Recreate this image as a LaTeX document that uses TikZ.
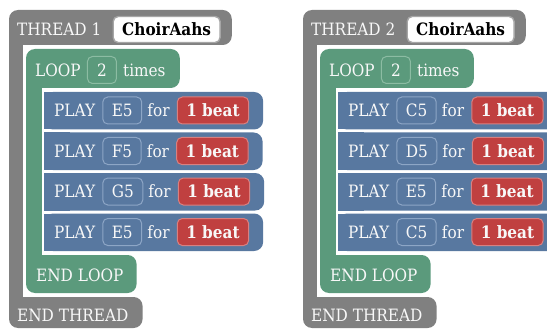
\documentclass[tikz,border=0pt]{standalone}
\usepackage{fontspec}
\setmainfont{DejaVu Serif Condensed}
\usetikzlibrary{positioning,backgrounds}
\definecolor{thgray}{HTML}{808080}
\definecolor{lpgreen}{HTML}{5B9A7C}
\definecolor{lpgreenedge}{HTML}{8CBCA3}
\definecolor{plblue}{HTML}{5878A0}
\definecolor{plblueedge}{HTML}{8DA6C6}
\definecolor{beatred}{HTML}{C04040}
\definecolor{beatrededge}{HTML}{D98080}
\definecolor{txt}{HTML}{F8F8F8}
\tikzset{
  lbl/.style={text=txt, font=\fontsize{17}{20}\selectfont, inner sep=0pt,
    text height=12.3pt, text depth=0pt, anchor=west},
  slotbox/.style={lbl, draw=#1, line width=1pt, rounded corners=5pt,
    minimum height=27pt, inner xsep=9pt},
  beatbox/.style={slotbox=beatrededge, fill=beatred, font=\fontsize{17}{20}\selectfont\bfseries},
  namebox/.style={lbl, text=black, fill=white, draw=black!35, line width=1.4pt,
    rounded corners=5pt, minimum height=26pt, inner xsep=9pt,
    font=\fontsize{17}{20}\selectfont\bfseries},
}
\newcommand\mythread[4]{%
\begin{scope}[xshift=#2]
  \node[lbl] (#1-thr) at (17,29.5) {THREAD #3};
  \node[namebox, right=11pt of #1-thr] (#1-name) {ChoirAahs};
  \node[lbl] (#1-loop) at (35,70) {LOOP};
  \node[slotbox=lpgreenedge, right=6pt of #1-loop, minimum width=29pt] (#1-cnt) {2};
  \node[lbl, right=6pt of #1-cnt] (#1-times) {times};
  \node[lbl] (#1-endloop) at (36,275.5) {END LOOP};
  \node[lbl] (#1-endthr) at (17,315.5) {END THREAD};
  \coordinate (#1-hr) at ([xshift=11pt]#1-name.east);
  \coordinate (#1-lr) at ([xshift=14pt]#1-times.east);
  \coordinate (#1-elr) at ([xshift=13pt]#1-endloop.east);
  \coordinate (#1-etr) at ([xshift=14pt]#1-endthr.east);
  \begin{pgfonlayer}{background}
    \fill[thgray, rounded corners=9pt] (9,10) rectangle (#1-hr |- 0,45);
    \fill[thgray] (9,25) rectangle (23,310);
    \fill[thgray, rounded corners=9pt] (9,297) rectangle (#1-etr |- 0,328);
    \fill[lpgreen, rounded corners=9pt] (26,49) rectangle (#1-lr |- 0,88);
    \fill[lpgreen] (26,65) rectangle (42,270);
    \fill[lpgreen, rounded corners=9pt] (26,255) rectangle (#1-elr |- 0,293);
  \end{pgfonlayer}
  \foreach \n [count=\i] in {#4} {
    \pgfmathsetmacro\cy{110.5+40.5*(\i-1)}
    \pgfmathsetmacro\ty{\cy-18.5}
    \pgfmathsetmacro\by{\cy+19}
    \node[lbl] (#1-play\i) at (54,\cy) {PLAY};
    \node[slotbox=plblueedge, right=7pt of #1-play\i] (#1-note\i) {\n};
    \node[lbl, right=5pt of #1-note\i] (#1-for\i) {for};
    \node[beatbox, right=7pt of #1-for\i] (#1-beat\i) {1 beat};
    \coordinate (#1-rr\i) at ([xshift=14pt]#1-beat\i.east);
    \begin{pgfonlayer}{background}
      \fill[plblue, rounded corners=9pt] (44,\ty) rectangle (#1-rr\i |- 0,\by);
      \fill[plblue] (44,\ty) rectangle (70,\by);
    \end{pgfonlayer}
  }
\end{scope}}
\begin{document}
\begin{tikzpicture}[x=1pt,y=-1pt]
  \useasboundingbox (0,0) rectangle (547,329);
  \mythread{a}{0pt}{1}{E5,F5,G5,E5}
  \mythread{b}{294pt}{2}{C5,D5,E5,C5}
\end{tikzpicture}
\end{document}
